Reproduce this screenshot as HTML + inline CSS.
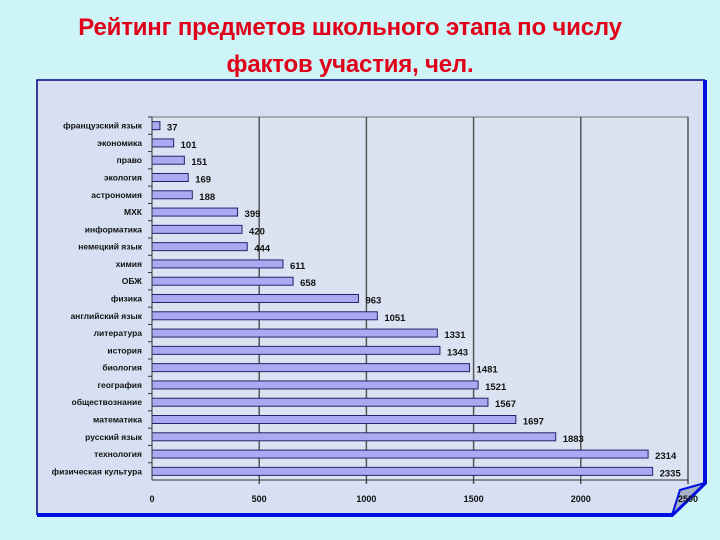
<!DOCTYPE html>
<html><head><meta charset="utf-8">
<style>
body{margin:0;width:720px;height:540px;background:#cdf4f6;overflow:hidden;font-family:"Liberation Sans","DejaVu Sans",sans-serif;}
#title{position:absolute;left:0;top:9px;width:700px;text-align:center;color:#e0001a;font-size:24px;font-weight:bold;line-height:37px;letter-spacing:-0.2px;}
</style></head>
<body>
<div id="title">Рейтинг предметов школьного этапа по числу<br>фактов участия, чел.</div>
<svg id="chart" width="720" height="540" style="position:absolute;left:0;top:0">
<polygon points="37,80 705,80 705,483 672,515 37,515" fill="#d6e0f2"/>
<polyline points="37,515 37,80 705,80" fill="none" stroke="#000080" stroke-width="1.5"/>
<polyline points="705,80 705,483 672,515 37,515" fill="none" stroke="#0010e0" stroke-width="4"/>
<polygon points="672,515 680,490 705,483" fill="#a9b3c8" stroke="#0010e0" stroke-width="2"/>
<g id="plot"></g>
</svg>
<script>
const categories=["французский язык","экономика","право","экология","астрономия","МХК","информатика","немецкий язык","химия","ОБЖ","физика","английский язык","литература","история","биология","география","обществознание","математика","русский язык","технология","физическая культура"];
const values=[37,101,151,169,188,399,420,444,611,658,963,1051,1331,1343,1481,1521,1567,1697,1883,2314,2335];
const ticks=[0,500,1000,1500,2000,2500];
const X0=152,X1=688,Y0=117,Y1=480,MAX=2500;
const ns="http://www.w3.org/2000/svg";
const g=document.getElementById('plot');
function x(v){return X0+(X1-X0)*v/MAX;}
const band=(Y1-Y0)/categories.length;
function yc(i){return Y0+band*(i+0.5);}
function mk(t,a,txt){const e=document.createElementNS(ns,t);for(const k in a)e.setAttribute(k,a[k]);if(txt!==undefined)e.textContent=txt;g.appendChild(e);return e;}
let r=mk('rect',{x:X0,y:Y0,width:X1-X0,height:Y1-Y0,fill:'#dbe3f3',stroke:'#777',"stroke-width":1});


ticks.forEach(t=>{
  if(t>0){let l=mk('line',{x1:x(t),x2:x(t),y1:Y0,y2:Y1+4,stroke:'#555',"stroke-width":1.5});
  
  }
  let tx=mk('text',{x:x(t),y:Y1+22,"text-anchor":"middle","font-size":9,"font-weight":"bold",fill:'#111'},String(t));
  
  
});
categories.forEach((c,i)=>{
  const y=yc(i);
  let tk=mk('line',{x1:X0-4,x2:X0,y1:Y0+band*i,y2:Y0+band*i,stroke:'#333'});
  
  
  let b=mk('rect',{x:X0,y:y-4,width:x(values[i])-X0,height:8,fill:'#a9aaf2',stroke:'#22236a',"stroke-width":1});
  
  
  let lb=mk('text',{x:X0-10,y:y+3,"text-anchor":"end","font-size":8.5,"font-weight":"bold",fill:'#111'},c);
  
  
  let vl=mk('text',{x:x(values[i])+7,y:y+5,"font-size":9.5,"font-weight":"bold",fill:'#111'},String(values[i]));
  
  
});
let ax=mk('line',{x1:X0,x2:X1,y1:Y1,y2:Y1,stroke:'#333',"stroke-width":1});


let ay=mk('line',{x1:X0,x2:X0,y1:Y0,y2:Y1,stroke:'#333',"stroke-width":1});


</script>
</body></html>
